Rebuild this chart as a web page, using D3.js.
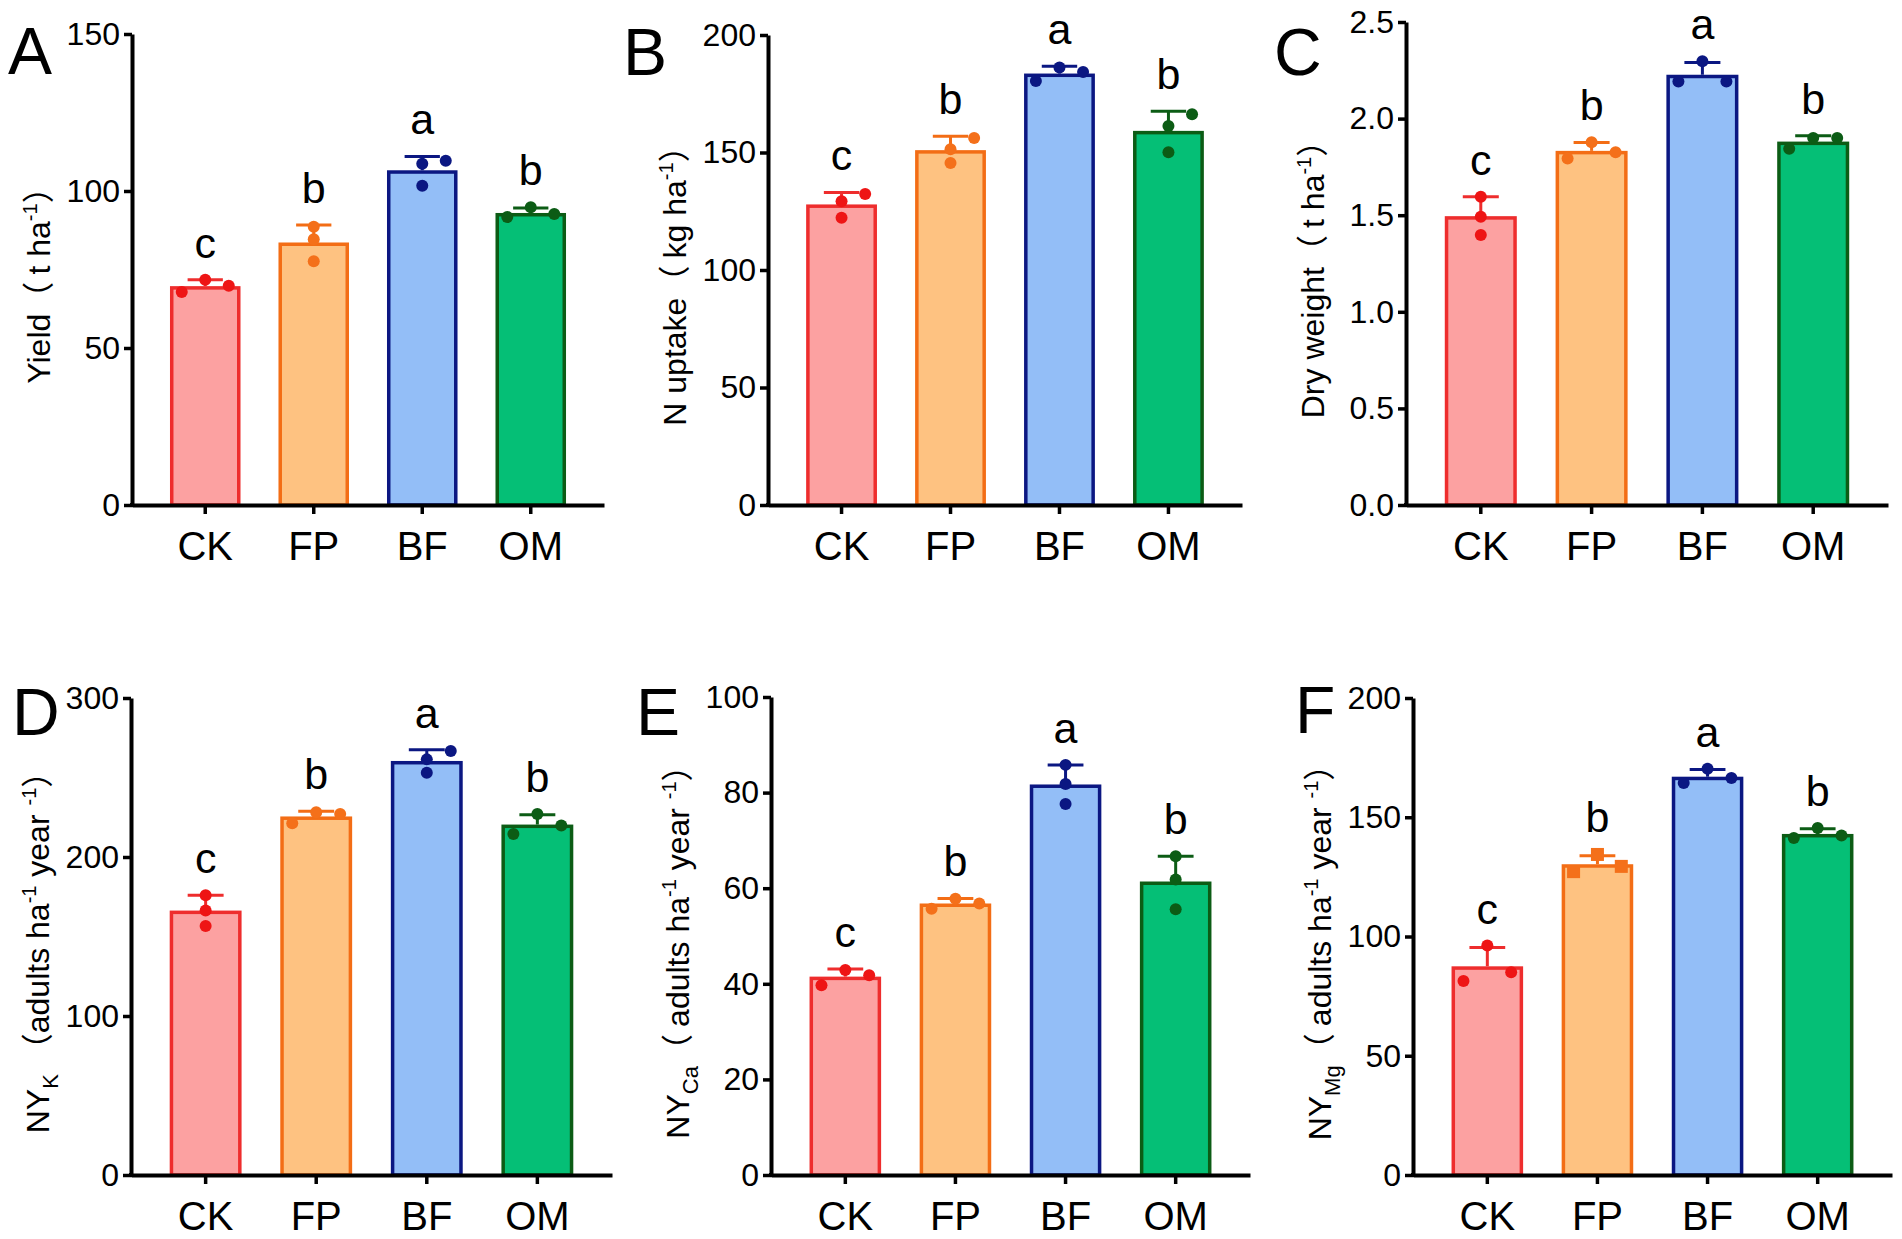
<!DOCTYPE html>
<html>
<head>
<meta charset="utf-8">
<script src="https://cdn.jsdelivr.net/npm/d3@7"></script>
<style>
  html, body { margin: 0; padding: 0; background: #fff; }
  svg { display: block; }
  text { font-family: "Liberation Sans", Arial, "Noto Sans CJK SC", sans-serif; fill: #000; }
</style>
</head>
<body>
<svg id="chart" width="1902" height="1239"></svg>
<script>
// ---------------- DATA ----------------
const categories = ["CK", "FP", "BF", "OM"];
const sigLetters = ["c", "b", "a", "b"];

// A: Yield (t ha-1)
const yieldMean = [69.7, 83.6, 106.6, 93.0];
const yieldSD = [2.0, 5.6, 4.4, 1.6];
const yieldPoints = [[67.8, 71.7, 69.8], [88.6, 84.6, 77.6], [108.7, 109.6, 101.7], [91.7, 94.8, 92.7]];
const yieldSlots = [[-1, 0, 1], [0, 0, 0], [0, 1, 0], [-1, 0, 1]];
const yieldTicks = [0, 50, 100, 150];

// B: N uptake (kg ha-1)
const nUptakeMean = [127.9, 151.0, 183.6, 159.2];
const nUptakeSD = [5.1, 5.9, 3.1, 8.4];
const nUptakePoints = [[122.2, 129.3, 132.3], [145.5, 151.4, 156.2], [180.4, 186.2, 184.3], [150.1, 161.3, 166.3]];
const nUptakeSlots = [[0, 0, 1], [0, 0, 1], [-1, 0, 1], [0, 0, 1]];
const nUptakeTicks = [0, 50, 100, 150, 200];

// C: Dry weight (t ha-1)
const dryMean = [1.495, 1.833, 2.227, 1.881];
const drySD = [0.100, 0.043, 0.064, 0.030];
const dryPoints = [[1.596, 1.492, 1.397], [1.794, 1.878, 1.826], [2.192, 2.297, 2.192], [1.844, 1.900, 1.900]];
const drySlots = [[0, 0, 0], [-1, 0, 1], [-1, 0, 1], [-1, 0, 1]];
const dryTicks = [0, 0.5, 1.0, 1.5, 2.0, 2.5];

// D: NY_K
const nykMean = [166.3, 225.5, 260.4, 220.4];
const nykSD = [9.6, 3.3, 7.0, 6.2];
const nykPoints = [[175.9, 166.3, 156.6], [221.2, 228.2, 227.0], [253.0, 261.4, 266.7], [214.5, 227.0, 219.8]];
const nykSlots = [[0, 0, 0], [-1, 0, 1], [0, 0, 1], [-1, 0, 1]];
const nykTicks = [0, 100, 200, 300];

// E: NY_Ca
const nycaMean = [41.5, 56.8, 81.7, 61.4];
const nycaSD = [1.6, 1.05, 4.1, 5.3];
const nycaPoints = [[39.7, 42.9, 41.8], [55.7, 57.8, 56.8], [85.8, 81.8, 77.6], [66.7, 61.8, 55.6]];
const nycaSlots = [[-1, 0, 1], [-1, 0, 1], [0, 0, 0], [0, 0, 0]];
const nycaTicks = [0, 20, 40, 60, 80, 100];

// F: NY_Mg
const nymgMean = [87.5, 130.3, 167.0, 143.0];
const nymgSD = [7.9, 3.6, 3.0, 2.2];
const nymgPoints = [[81.3, 96.2, 85.0], [127.2, 134.4, 129.4], [164.4, 170.3, 166.5], [141.3, 145.5, 142.3]];
const nymgSlots = [[-1, 0, 1], [-1, 0, 1], [-1, 0, 1], [-1, 0, 1]];
const nymgTicks = [0, 50, 100, 150, 200];

// Axis titles (text segments)
const titleA = [["Yield"], ["（ ", "cjk"], ["t ha"], ["-1", "sup"], ["）", "cjk"]];
const titleB = [["N uptake"], ["（ ", "cjk"], ["kg ha"], ["-1", "sup"], ["）", "cjk"]];
const titleC = [["Dry weight"], ["（ ", "cjk"], ["t ha"], ["-1", "sup"], ["）", "cjk"]];
const titleD = [["NY"], ["K", "sub"], [" "], ["（", "cjk"], ["adults ha"], ["-1", "sup"], [" year "], ["-1", "sup"], ["）", "cjk"]];
const titleE = [["NY"], ["Ca", "sub"], ["（ ", "cjk"], ["adults ha"], ["-1", "sup"], [" year "], ["-1", "sup"], ["）", "cjk"]];
const titleF = [["NY"], ["Mg", "sub"], ["（ ", "cjk"], ["adults ha"], ["-1", "sup"], [" year "], ["-1", "sup"], ["）", "cjk"]];

// ---------------- STYLE / LAYOUT ----------------
const fillColors = ["#FCA1A1", "#FEC281", "#93BEF7", "#05BF76"];
const strokeColors = ["#EE2D2D", "#F36D15", "#0B1782", "#0C5C15"];
const dotColors = ["#EE1515", "#F4701A", "#0B1782", "#0C5C15"];

const panels = [
  { id: "A", mean: yieldMean, sd: yieldSD, pts: yieldPoints, slots: yieldSlots, ticks: yieldTicks, fmt: d3.format("d"), title: titleA,
    x0: 132, x1: 604, yTop: 34, yZero: 505, letterDx: -124, letterY: 74 },
  { id: "B", mean: nUptakeMean, sd: nUptakeSD, pts: nUptakePoints, slots: nUptakeSlots, ticks: nUptakeTicks, fmt: d3.format("d"), title: titleB,
    x0: 768, x1: 1242, yTop: 35, yZero: 505, letterDx: -145, letterY: 75 },
  { id: "C", mean: dryMean, sd: drySD, pts: dryPoints, slots: drySlots, ticks: dryTicks, fmt: d3.format(".1f"), title: titleC,
    x0: 1406, x1: 1888, yTop: 22, yZero: 505, letterDx: -132, letterY: 75 },
  { id: "D", mean: nykMean, sd: nykSD, pts: nykPoints, slots: nykSlots, ticks: nykTicks, fmt: d3.format("d"), title: titleD,
    x0: 131, x1: 612, yTop: 698, yZero: 1175, letterDx: -119, letterY: 735 },
  { id: "E", mean: nycaMean, sd: nycaSD, pts: nycaPoints, slots: nycaSlots, ticks: nycaTicks, fmt: d3.format("d"), title: titleE,
    x0: 771, x1: 1250, yTop: 697, yZero: 1175, letterDx: -135, letterY: 735 },
  { id: "F", mean: nymgMean, sd: nymgSD, pts: nymgPoints, slots: nymgSlots, ticks: nymgTicks, fmt: d3.format("d"), title: titleF,
    x0: 1413, x1: 1892, yTop: 698, yZero: 1175, letterDx: -118, letterY: 733, squareGroup: 1 }
];

const svg = d3.select("#chart");

panels.forEach(p => {
  const g = svg.append("g");
  const x = d3.scaleBand().domain(categories).range([p.x0, p.x1]).paddingInner(0.35).paddingOuter(0.35);
  const y = d3.scaleLinear().domain([0, d3.max(p.ticks)]).range([p.yZero, p.yTop]);
  const bw = x.bandwidth();
  const sw = 3.5;

  // bars
  g.selectAll("rect.bar").data(categories).enter().append("rect")
    .attr("class", "bar")
    .attr("x", d => x(d) + sw / 2)
    .attr("width", bw - sw)
    .attr("y", (d, i) => y(p.mean[i]) + sw / 2)
    .attr("height", (d, i) => y(0) - y(p.mean[i]) - sw / 2)
    .attr("fill", (d, i) => fillColors[i])
    .attr("stroke", (d, i) => strokeColors[i])
    .attr("stroke-width", sw);

  // error bars (upper only)
  categories.forEach((c, i) => {
    const cx = x(c) + bw / 2;
    g.append("line").attr("x1", cx).attr("x2", cx)
      .attr("y1", y(p.mean[i])).attr("y2", y(p.mean[i] + p.sd[i]))
      .attr("stroke", strokeColors[i]).attr("stroke-width", 3);
    g.append("line").attr("x1", cx - bw / 4).attr("x2", cx + bw / 4)
      .attr("y1", y(p.mean[i] + p.sd[i])).attr("y2", y(p.mean[i] + p.sd[i]))
      .attr("stroke", strokeColors[i]).attr("stroke-width", 3);
  });

  // points
  categories.forEach((c, i) => {
    const cx = x(c) + bw / 2;
    p.pts[i].forEach((v, k) => {
      const px = cx + p.slots[i][k] * bw / 3;
      if (p.squareGroup === i) {
        g.append("rect").attr("x", px - 6.5).attr("y", y(v) - 6.5).attr("width", 13).attr("height", 13)
          .attr("fill", dotColors[i]);
      } else {
        g.append("circle").attr("cx", px).attr("cy", y(v)).attr("r", 6).attr("fill", dotColors[i]);
      }
    });
  });

  // significance letters
  categories.forEach((c, i) => {
    const top = Math.max(p.mean[i] + p.sd[i], d3.max(p.pts[i]));
    g.append("text").attr("x", x(c) + bw / 2).attr("y", y(top) - 22)
      .attr("text-anchor", "middle").attr("font-size", 43).text(sigLetters[i]);
  });

  // y axis
  const yAxis = g.append("g").attr("transform", `translate(${p.x0},0)`)
    .call(d3.axisLeft(y).tickValues(p.ticks).tickFormat(p.fmt).tickSize(8).tickSizeOuter(0).tickPadding(4));
  yAxis.select(".domain").attr("stroke", "#000").attr("stroke-width", 4);
  yAxis.selectAll(".tick line").attr("stroke", "#000").attr("stroke-width", 3.5);
  yAxis.selectAll(".tick text").attr("font-size", 32).attr("font-family", "Liberation Sans, Arial, sans-serif").attr("fill", "#000");

  // x axis
  const xAxis = g.append("g").attr("transform", `translate(0,${p.yZero})`)
    .call(d3.axisBottom(x).tickSize(9).tickSizeOuter(0).tickPadding(18));
  xAxis.select(".domain").attr("stroke", "#000").attr("stroke-width", 4);
  xAxis.selectAll(".tick line").attr("stroke", "#000").attr("stroke-width", 3.5);
  xAxis.selectAll(".tick text").attr("font-size", 40).attr("font-family", "Liberation Sans, Arial, sans-serif").attr("fill", "#000");

  // corner join
  g.append("rect").attr("x", p.x0 - 2).attr("y", p.yZero - 2).attr("width", 4).attr("height", 4).attr("fill", "#000");

  // panel letter
  g.append("text").attr("x", p.x0 + p.letterDx).attr("y", p.letterY)
    .attr("font-size", 66).text(p.id);

  // y title
  const ty = (p.yTop + p.yZero) / 2 + 8;
  const tx = p.x0 - 82;
  const t = g.append("text").attr("transform", `translate(${tx},${ty}) rotate(-90)`)
    .attr("text-anchor", "middle").attr("font-size", 32);
  let shift = 0;
  p.title.forEach(seg => {
    const ts = t.append("tspan").text(seg[0]);
    const kind = seg[1];
    let target = 0;
    if (kind === "sup") { target = -13; ts.attr("font-size", 20); }
    else if (kind === "sub") { target = 9; ts.attr("font-size", 22); }
    else if (kind === "cjk") { ts.attr("font-family", "Noto Sans CJK SC, sans-serif"); }
    ts.attr("dy", target - shift);
    shift = target;
  });
});
</script>
</body>
</html>
